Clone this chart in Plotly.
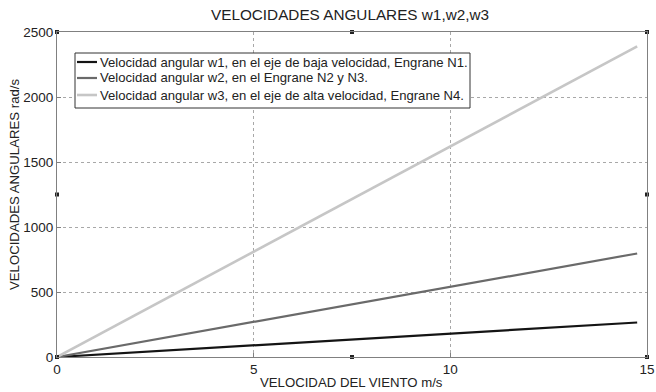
import plotly.graph_objects as go

viento = [0, 5, 10, 14.75]
w1 = [0, 90, 180, 265.5]
w2 = [0, 270, 540, 796.5]
w3 = [0, 810, 1620, 2389.5]

names = [
    "Velocidad angular w1, en el eje de baja velocidad, Engrane N1.",
    "Velocidad angular w2, en el Engrane N2 y N3.",
    "Velocidad angular w3, en el eje de alta velocidad, Engrane N4.",
]
colors = ["#141414", "#6a6a6a", "#c6c6c6"]
widths = [2.2, 2.2, 2.6]

handle_x = [0, 7.5, 15, 0, 15, 0, 7.5, 15]
handle_y = [2500, 2500, 2500, 1250, 1250, 0, 0, 0]

W, H = 656, 392
L, R, T, B = 57, 647, 32, 357
def px(x): return (x - L) / (R - L)
def py(y): return (B - y) / (B - T)

fig = go.Figure()
for ys, n, c, w in zip([w1, w2, w3], names, colors, widths):
    fig.add_trace(go.Scatter(x=viento, y=ys, mode="lines", name=n,
                             line=dict(color=c, width=w), showlegend=False))
fig.add_trace(go.Scatter(x=handle_x, y=handle_y, mode="markers",
                         marker=dict(symbol="square", size=4, color="#222"),
                         showlegend=False, cliponaxis=False, hoverinfo="skip"))

axis_common = dict(showline=True, mirror=True, linecolor="#808080", linewidth=1,
                   showgrid=True, gridcolor="#a8a8a8", griddash="dot", gridwidth=1,
                   zeroline=False, ticks="inside", ticklen=4, tickcolor="#808080",
                   tickfont=dict(size=13.5, color="#222"), automargin=False)

# legend box
fig.add_shape(type="rect", xref="paper", yref="paper",
              x0=px(75), x1=px(470), y0=py(108), y1=py(53),
              line=dict(color="#333", width=1), fillcolor="white", layer="above")
rows_y = [62, 78, 95]
for n, c, w, ry in zip(names, colors, widths, rows_y):
    fig.add_shape(type="line", xref="paper", yref="paper",
                  x0=px(77), x1=px(97), y0=py(ry), y1=py(ry),
                  line=dict(color=c, width=w), layer="above")
    fig.add_annotation(text=n, xref="paper", yref="paper", x=px(98), y=py(ry),
                       xanchor="left", yanchor="middle", showarrow=False,
                       font=dict(size=13.1, color="#222"))

# axis titles
fig.add_annotation(text="VELOCIDAD DEL VIENTO m/s", xref="paper", yref="paper",
                   x=px(351), y=py(382), xanchor="center", yanchor="middle",
                   showarrow=False, font=dict(size=13.2, color="#222"))
fig.add_annotation(text="VELOCIDADES ANGULARES rad/s", xref="paper", yref="paper",
                   x=px(15), y=py(185), xanchor="center", yanchor="middle",
                   textangle=-90, showarrow=False, font=dict(size=13.2, color="#222"))

fig.update_layout(
    width=W, height=H,
    margin=dict(l=L, r=W - R, t=T, b=H - B, autoexpand=False),
    paper_bgcolor="white", plot_bgcolor="white",
    font=dict(family="Liberation Sans, Arial, sans-serif", color="#222"),
    title=dict(text="VELOCIDADES ANGULARES w1,w2,w3", x=350 / W, xanchor="center",
               y=1 - 15 / H, yanchor="middle", font=dict(size=15.3)),
    xaxis=dict(range=[0, 15], tickvals=[0, 5, 10, 15], **axis_common),
    yaxis=dict(range=[0, 2500], tickvals=[0, 500, 1000, 1500, 2000, 2500], **axis_common),
    showlegend=False,
)

fig.write_html("out.html", config={"displayModeBar": False},
               post_script="document.body.style.margin='0';document.body.style.overflow='hidden';")
